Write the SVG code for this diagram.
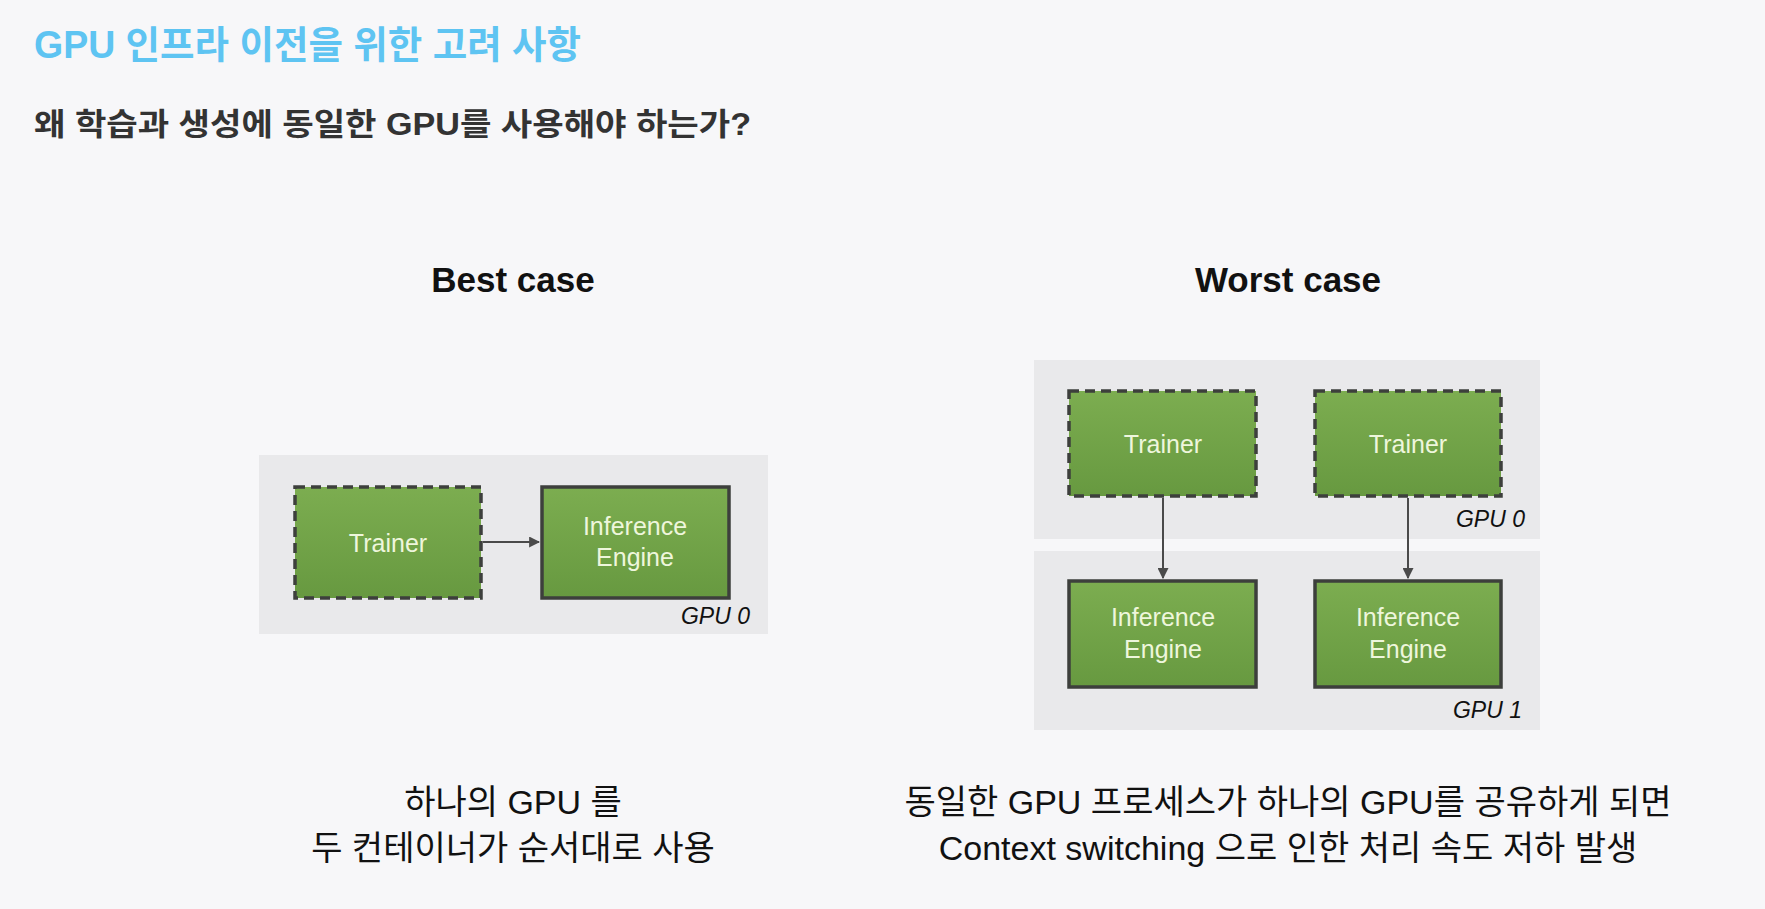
<svg xmlns="http://www.w3.org/2000/svg" width="1765" height="909" viewBox="0 0 1765 909">
<defs>
<linearGradient id="g" x1="0" y1="0" x2="0" y2="1">
<stop offset="0" stop-color="#7cad50"/>
<stop offset="1" stop-color="#679940"/>
</linearGradient>
<marker id="ah" viewBox="0 0 10 10" refX="9" refY="5" markerWidth="5.5" markerHeight="5.5" orient="auto" markerUnits="strokeWidth">
<path d="M0,0 L10,5 L0,10 z" fill="#4a4a4a"/>
</marker>
<style>
.ko{font-family:"Liberation Sans","Noto Sans CJK KR",sans-serif}
.panel{fill:#e9e9eb}
.box{fill:url(#g);stroke:#3d3f3c;stroke-width:3.5}
.dash{stroke-dasharray:10 6}
.lbl{font-family:"Liberation Sans",sans-serif;font-size:25px;fill:#eef6dc;text-anchor:middle}
.gpu{font-family:"Liberation Sans",sans-serif;font-size:23px;font-style:italic;fill:#111;text-anchor:end}
.conn{stroke:#4a4a4a;stroke-width:2;fill:none;marker-end:url(#ah)}
.bt{font-size:34px;fill:#111;text-anchor:middle}
</style>
</defs>
<rect width="1765" height="909" fill="#f7f7f9"/>
<g id="title">
<text class="ko" x="34" y="58" font-size="38" font-weight="bold" fill="#5ec4f2" textLength="547" lengthAdjust="spacingAndGlyphs">GPU 인프라 이전을 위한 고려 사항</text>
</g>
<g id="subtitle">
<text class="ko" x="34" y="135" font-size="31" font-weight="bold" fill="#333" textLength="717" lengthAdjust="spacingAndGlyphs">왜 학습과 생성에 동일한 GPU를 사용해야 하는가?</text>
</g>
<g id="best-heading"><text class="ko" x="513" y="292" font-size="35" font-weight="bold" fill="#111" text-anchor="middle">Best case</text></g>
<g id="worst-heading"><text class="ko" x="1288" y="292" font-size="35" font-weight="bold" fill="#111" text-anchor="middle">Worst case</text></g>

<g id="best-panel">
<rect class="panel" x="259" y="455" width="509" height="179"/>
<text class="gpu" x="750" y="624">GPU 0</text>
</g>
<g id="best-trainer">
<rect class="box dash" x="295" y="487" width="186" height="111"/>
<text class="lbl" x="388" y="552">Trainer</text>
</g>
<g id="best-engine">
<rect class="box" x="542" y="487" width="187" height="111"/>
<text class="lbl" x="635" y="535">Inference</text>
<text class="lbl" x="635" y="566">Engine</text>
</g>

<g id="worst-panel-gpu0">
<rect class="panel" x="1034" y="360" width="506" height="179"/>
<text class="gpu" x="1525" y="527">GPU 0</text>
</g>
<g id="worst-panel-gpu1">
<rect class="panel" x="1034" y="551" width="506" height="179"/>
<text class="gpu" x="1522" y="718">GPU 1</text>
</g>
<g id="worst-trainer-1">
<rect class="box dash" x="1069" y="391" width="187" height="105"/>
<text class="lbl" x="1163" y="453">Trainer</text>
</g>
<g id="worst-trainer-2">
<rect class="box dash" x="1315" y="391" width="186" height="105"/>
<text class="lbl" x="1408" y="453">Trainer</text>
</g>
<g id="worst-engine-1">
<rect class="box" x="1069" y="581" width="187" height="106"/>
<text class="lbl" x="1163" y="626">Inference</text>
<text class="lbl" x="1163" y="658">Engine</text>
</g>
<g id="worst-engine-2">
<rect class="box" x="1315" y="581" width="186" height="106"/>
<text class="lbl" x="1408" y="626">Inference</text>
<text class="lbl" x="1408" y="658">Engine</text>
</g>

<g id="connectors">
<line class="conn" x1="483" y1="542" x2="539" y2="542"/>
<line class="conn" x1="1163" y1="498" x2="1163" y2="578"/>
<line class="conn" x1="1408" y1="498" x2="1408" y2="578"/>
</g>

<g id="best-caption">
<text class="ko bt" x="513" y="814">하나의 GPU 를</text>
<text class="ko bt" x="513" y="860">두 컨테이너가 순서대로 사용</text>
</g>
<g id="worst-caption">
<text class="ko bt" x="1288" y="814">동일한 GPU 프로세스가 하나의 GPU를 공유하게 되면</text>
<text class="ko bt" x="1288" y="860">Context switching 으로 인한 처리 속도 저하 발생</text>
</g>
</svg>
